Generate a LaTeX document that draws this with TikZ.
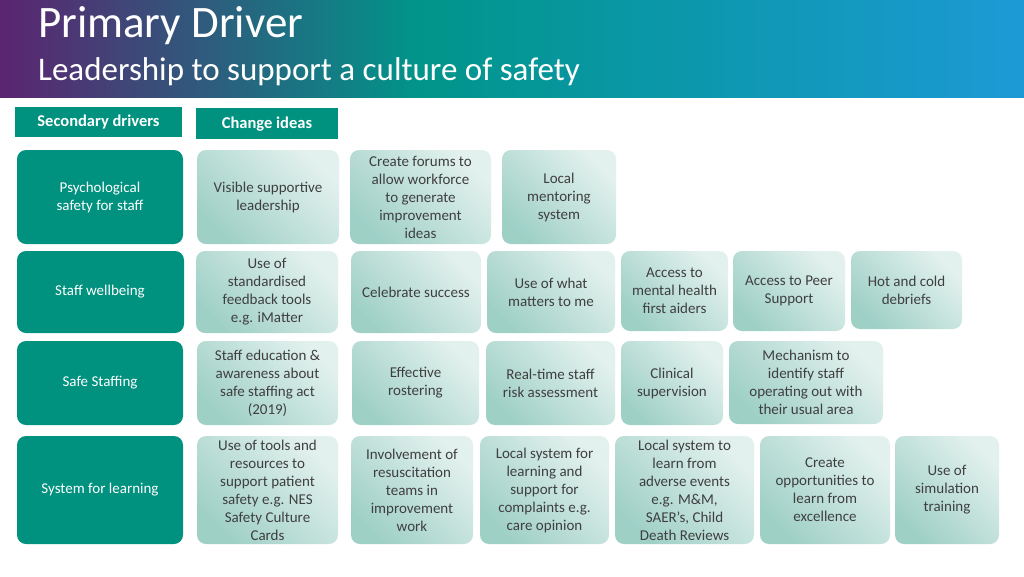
\documentclass[tikz,border=0pt]{standalone}
\usepackage{fontspec}
\setmainfont{Carlito}
\usetikzlibrary{shadings}
\definecolor{tealD}{HTML}{00917F}
\definecolor{ideaA}{HTML}{9FD0C6}
\definecolor{ideaB}{HTML}{E3F1EE}
\definecolor{txt}{HTML}{3F3F3F}
\definecolor{hpurp}{HTML}{5B2470}
\definecolor{hteal}{HTML}{00958A}
\definecolor{hblue}{HTML}{1C9AD6}
\tikzset{
 driverbox/.style={fill=tealD,rounded corners=9pt},
 drivertext/.style={text=white,align=center,font=\fontsize{15}{18}\selectfont,inner sep=0},
 idea/.style={draw=none,rounded corners=9pt,left color=ideaA,right color=ideaB,shading angle=135},
 ideatext/.style={align=center,text=txt,font=\fontsize{15}{18}\selectfont,inner sep=0},
 hdr/.style={fill=tealD},
 hdrtext/.style={text=white,font=\bfseries\fontsize{16.5}{18}\selectfont}
}
\begin{document}
\begin{tikzpicture}[x=1pt,y=-1pt]
\useasboundingbox (0,0) rectangle (1024,576);
\fill[left color=hpurp,right color=hteal] (0,0) rectangle (420,97);
\fill[left color=hteal,right color=hblue] (420,0) rectangle (1024,97);
\node[anchor=base west,text=white,font=\fontsize{45}{48}\selectfont,inner sep=0] (t1) at (38,37) {Primary Driver};
\node[anchor=base west,text=white,font=\fontsize{33}{36}\selectfont,inner sep=0] (t2) at (38,80) {Leadership to support a culture of safety};
\path[hdr] (15,107) rectangle (182,137);
\node[hdrtext] (h1) at (98.5,122) {Secondary drivers};
\path[hdr] (196,108) rectangle (338,139);
\node[hdrtext] (h2) at (267,124) {Change ideas};
\path[driverbox] (17,150) rectangle (183,244);
\node[drivertext] (d1) at (100,197) {Psychological\\safety for staff};
\path[driverbox] (17,251) rectangle (184,333);
\node[drivertext] (d2) at (100,292) {Staff wellbeing};
\path[driverbox] (17,341) rectangle (183,425);
\node[drivertext] (d3) at (100,383) {Safe Staffing};
\path[driverbox] (17,436) rectangle (183,544);
\node[drivertext] (d4) at (100,490) {System for learning};
\newcommand{\I}[6]{\path[idea] (#2,#3) rectangle (#4,#5);
 \node[ideatext] (#1) at ({(#2+#4)/2},{(#3+#5)/2}) {#6};}
\I{a1}{197}{150}{339}{244}{Visible supportive\\leadership}
\I{a2}{350}{150}{491}{244}{Create forums to\\allow workforce\\to generate\\improvement\\ideas}
\I{a3}{502}{150}{616}{244}{Local\\mentoring\\system}
\I{b1}{196}{251}{338}{333}{Use of\\standardised\\feedback tools\\e.g. iMatter}
\I{b2}{351}{251}{481}{333}{Celebrate success}
\I{b3}{487}{251}{615}{333}{Use of what\\matters to me}
\I{b4}{621}{251}{728}{331}{Access to\\mental health\\first aiders}
\I{b5}{733}{251}{845}{331}{Access to Peer\\Support}
\I{b6}{851}{251}{962}{329}{Hot and cold\\debriefs}
\I{c1}{197}{341}{338}{425}{Staff education \&\\awareness about\\safe staffing act\\(2019)}
\I{c2}{352}{341}{479}{425}{Effective\\rostering}
\I{c3}{486}{341}{615}{425}{Real-time staff\\risk assessment}
\I{c4}{621}{341}{723}{425}{Clinical\\supervision}
\I{c5}{729}{341}{883}{424}{Mechanism to\\identify staff\\operating out with\\their usual area}
\I{e1}{197}{436}{338}{544}{Use of tools and\\resources to\\support patient\\safety e.g. NES\\Safety Culture\\Cards}
\I{e2}{351}{436}{473}{544}{Involvement of\\resuscitation\\teams in\\improvement\\work}
\I{e3}{480}{436}{609}{544}{Local system for\\learning and\\support for\\complaints e.g.\\care opinion}
\I{e4}{615}{436}{754}{544}{Local system to\\learn from\\adverse events\\e.g. M\&M,\\SAER’s, Child\\Death Reviews}
\I{e5}{760}{436}{890}{544}{Create\\opportunities to\\learn from\\excellence}
\I{e6}{895}{436}{999}{544}{Use of\\simulation\\training}
\end{tikzpicture}
\end{document}
